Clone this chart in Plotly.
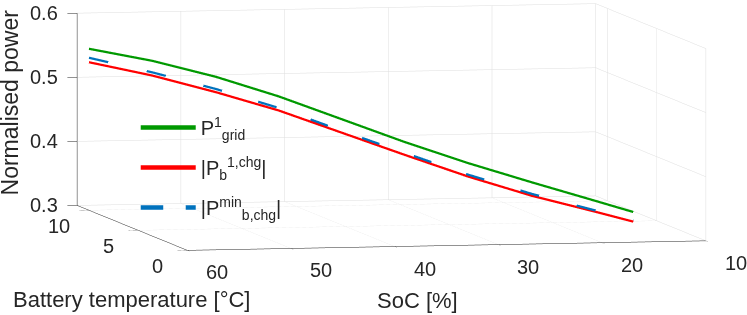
import plotly.graph_objects as go

# ---- data ----
soc = [60, 55, 50, 45, 40, 35, 30, 25, 20, 17]
temp = [10.0, 8.84, 7.67, 6.51, 5.35, 4.19, 3.02, 1.86, 0.70, 0.0]
p_grid = [0.552, 0.539, 0.520, 0.495, 0.465, 0.435, 0.408, 0.384, 0.361, 0.347]
p_b_chg = [0.531, 0.516, 0.496, 0.473, 0.444, 0.415, 0.387, 0.363, 0.344, 0.332]
p_min_chg = [0.538, 0.521, 0.501, 0.477, 0.447, 0.418, 0.390, 0.366, 0.346, 0.334]

soc_ticks = [10, 20, 30, 40, 50, 60]
temp_ticks = [0, 5, 10]
p_ticks = [0.3, 0.4, 0.5, 0.6]
soc_range = [10, 60]
temp_range = [0, 11.2]
p_range = [0.3, 0.6]

FONT = "Liberation Sans, Arial, Helvetica, sans-serif"
TXT = "#262626"

fig = go.Figure()
fig.add_trace(go.Scatter3d(x=temp, y=soc, z=p_grid, mode="lines",
                           line=dict(color="#009900", width=4.5),
                           legendgroup="a",
                           name="P<sup>1</sup><sub>grid</sub>"))
fig.add_trace(go.Scatter3d(x=temp, y=soc, z=p_b_chg, mode="lines",
                           line=dict(color="#ff0000", width=4.5),
                           legendgroup="b",
                           name="|P<sub>b</sub><sup>1,chg</sup>|"))
fig.add_trace(go.Scatter3d(x=temp, y=soc, z=p_min_chg, mode="lines",
                           line=dict(color="#0072bd", width=4.5, dash="longdash"),
                           legendgroup="c",
                           name="|P<sup>min</sup><sub>b,chg</sub>|"))

ax_common = dict(showbackground=False, gridcolor="#dedede", gridwidth=1,
                 showline=True, linecolor=TXT, linewidth=1,
                 ticks="outside", tickcolor=TXT, ticklen=10, tickwidth=1,
                 showticklabels=False, zeroline=False, showspikes=False,
                 title=dict(text=""))

ann = []
for v in p_ticks:
    ann.append(dict(x=temp_range[1], y=soc_range[1], z=v, text=f"{v:.1f}",
                    xshift=-33, yshift=0))
for v in temp_ticks:
    ann.append(dict(x=v, y=soc_range[1], z=p_range[0], text=str(v),
                    xshift=-30, yshift=-16))
for v in soc_ticks:
    ann.append(dict(x=temp_range[0], y=v, z=p_range[0], text=str(v),
                    xshift=30, yshift=-22))
ann.append(dict(x=temp_range[1], y=soc_range[1], z=0.45, text="Normalised power",
                textangle=-90, xshift=-67, yshift=7, font=dict(size=23)))
ann.append(dict(x=5.6, y=soc_range[1], z=p_range[0], text="Battery temperature [°C]",
                xshift=-1, yshift=-72, font=dict(size=22)))
ann.append(dict(x=temp_range[0], y=35, z=p_range[0], text="SoC [%]",
                xshift=-29, yshift=-55, font=dict(size=22)))
for a in ann:
    a.setdefault("font", dict(size=20))
    a["font"].update(family=FONT, color=TXT)
    a.update(showarrow=False, xanchor="center", yanchor="middle")

k = 3.366
d = (-0.9744 * 2, 0.2071 * 2, 0.0866 * 2)
c = (0.0074, 0.1153, -0.1929)
fig.update_layout(
    width=747, height=315,
    margin=dict(l=0, r=0, t=0, b=0),
    paper_bgcolor="white",
    font=dict(family=FONT, size=20, color=TXT),
    scene=dict(
        domain=dict(x=[0, 1], y=[0, 1]),
        xaxis=dict(range=temp_range, tickvals=temp_ticks, **ax_common),
        yaxis=dict(range=soc_range, tickvals=soc_ticks, **ax_common),
        zaxis=dict(range=p_range, tickvals=p_ticks, **ax_common),
        aspectmode="manual",
        aspectratio=dict(x=1 * k, y=1 * k, z=0.364 * k),
        camera=dict(eye=dict(x=c[0] + d[0], y=c[1] + d[1], z=c[2] + d[2]),
                    center=dict(x=c[0], y=c[1], z=c[2]), up=dict(x=0, y=0, z=1),
                    projection=dict(type="orthographic")),
        annotations=ann,
    ),
    legend=dict(x=0.1817, y=0.6568, xanchor="left", yanchor="top",
                bgcolor="rgba(0,0,0,0)", itemwidth=55,
                font=dict(size=20, family=FONT, color=TXT),
                tracegroupgap=11),
    showlegend=True,
)

fig.write_html("out.html",
               config={"displayModeBar": False},
               post_script="document.body.style.margin='0';"
                           "document.body.style.overflow='hidden';")
